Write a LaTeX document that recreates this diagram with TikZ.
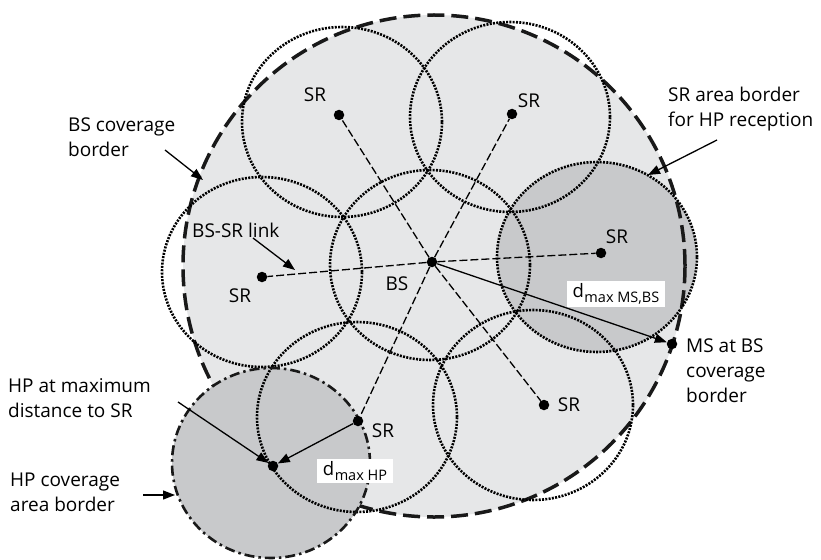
\documentclass[tikz,border=0pt]{standalone}
\usepackage{fontspec}
\setmainfont{Open Sans}
\usetikzlibrary{arrows.meta}

\definecolor{cellfill}{HTML}{E6E7E8}
\definecolor{hpfill}{HTML}{C8C9CB}

% distance symbol with a lowered, smaller subscript
\newcommand\dmaxsub[1]{d\hspace{0.5pt}{\fontsize{14.5}{14.5}\selectfont\raisebox{-4.5pt}{#1}}}

\tikzset{
  srzone/.style={draw=black, line width=2.6pt, dash pattern=on 2pt off 1.3pt},
  bsborder/.style={draw=black!90, line width=3.5pt, dash pattern=on 17pt off 7pt},
  hpborder/.style={draw=black!90, line width=2.6pt, dash pattern=on 10pt off 4pt on 2.5pt off 4pt},
  link/.style={draw=black, line width=1.3pt, dash pattern=on 8pt off 3pt},
  pointer/.style={draw=black, line width=1.3pt, -{Triangle[length=12pt,width=9pt]}},
  station/.style={circle, fill=black, inner sep=0pt, minimum size=10.5pt},
  lbl/.style={font=\fontsize{19}{25}\selectfont, inner sep=0pt, align=left},
  dlbl/.style={font=\fontsize{18.5}{25}\selectfont, fill=white, inner xsep=6pt, inner ysep=3pt},
}

\begin{document}
\begin{tikzpicture}[x=1pt,y=-1pt]
\useasboundingbox (0,0) rectangle (821,559);

% BS coverage area
\fill[cellfill] (434,266) circle[radius=251pt];
% SR area used for HP reception
\fill[hpfill] (597,257) ellipse[x radius=100pt, y radius=95pt];
% BS coverage border
\draw[bsborder] (434,266) circle[radius=251pt];
% HP coverage area
\fill[hpfill] (271,463) ellipse[x radius=99pt, y radius=95pt];

% SR coverage zones
\draw[srzone] (342,122) ellipse[x radius=100pt, y radius=95pt];
\draw[srzone] (510,117) ellipse[x radius=100pt, y radius=95pt];
\draw[srzone] (430,265) ellipse[x radius=100pt, y radius=95pt];
\draw[srzone] (262,272) ellipse[x radius=100pt, y radius=95pt];
\draw[srzone] (597,257) ellipse[x radius=100pt, y radius=95pt];
\draw[srzone] (533,405) ellipse[x radius=100pt, y radius=95pt];
\draw[srzone] (357,417) ellipse[x radius=100pt, y radius=95pt];

% HP coverage border
\draw[hpborder] (271,463) ellipse[x radius=99pt, y radius=95pt];

% stations
\node[station] (bs)  at (432,262) {};
\node[station] (sr1) at (339,115) {};
\node[station] (sr2) at (512,114) {};
\node[station] (sr3) at (262,277) {};
\node[station] (sr4) at (601,253) {};
\node[station] (sr5) at (544,405) {};
\node[station] (sr6) at (358,421) {};
\node[station] (hp)  at (273,466) {};
\node[station] (ms)  at (672,344) {};

% BS-SR links
\foreach \s in {sr1,sr2,sr3,sr4,sr5,sr6}
  \draw[link] (bs) -- (\s);

% maximum distances
\draw[pointer] (bs) -- (ms);
\draw[pointer] (sr6) -- (hp);
\node[dlbl] (dms) at (616,294) {\dmaxsub{max MS,BS}};
\node[dlbl] (dhp) at (355,471) {\dmaxsub{max HP}};

% station labels
\node[lbl] (lsr1) at (315,95) {SR};
\node[lbl] (lsr2) at (529,101) {SR};
\node[lbl] (lsr3) at (240,296) {SR};
\node[lbl] (lsr4) at (617,237) {SR};
\node[lbl] (lsr5) at (569,405) {SR};
\node[lbl] (lsr6) at (383,431) {SR};
\node[lbl] (lbs)  at (397,284) {BS};

% annotations
\node[lbl, anchor=north west] (tbsb) at (68,118) {BS coverage\\border};
\coordinate (tbsb-tail) at (165,150);
\coordinate (tbsb-tip) at (203,180);
\draw[pointer] (tbsb-tail) -- (tbsb-tip);

\node[lbl, anchor=north west] (tlink) at (192,223) {BS-SR link};
\coordinate (tlink-tail) at (253,238);
\coordinate (tlink-tip) at (295,270);
\draw[pointer] (tlink-tail) -- (tlink-tip);

\node[lbl, anchor=north west] (tsra) at (668,87) {SR area border\\for HP reception};
\coordinate (tsra-tail) at (717,140);
\coordinate (tsra-tip) at (648,175);
\draw[pointer] (tsra-tail) -- (tsra-tip);

\node[lbl, anchor=north west] (tms) at (686,339) {MS at BS\\coverage\\border};

\node[lbl, anchor=north west] (thpm) at (8,378) {HP at maximum\\distance to SR};
\coordinate (thpm-tail) at (178,402);
\draw[pointer] (thpm-tail) -- (hp);

\node[lbl, anchor=north west] (thpc) at (10,473) {HP coverage\\area border};
\coordinate (thpc-tail) at (143,495);
\coordinate (thpc-tip) at (175,495);
\draw[pointer] (thpc-tail) -- (thpc-tip);
\end{tikzpicture}
\end{document}
